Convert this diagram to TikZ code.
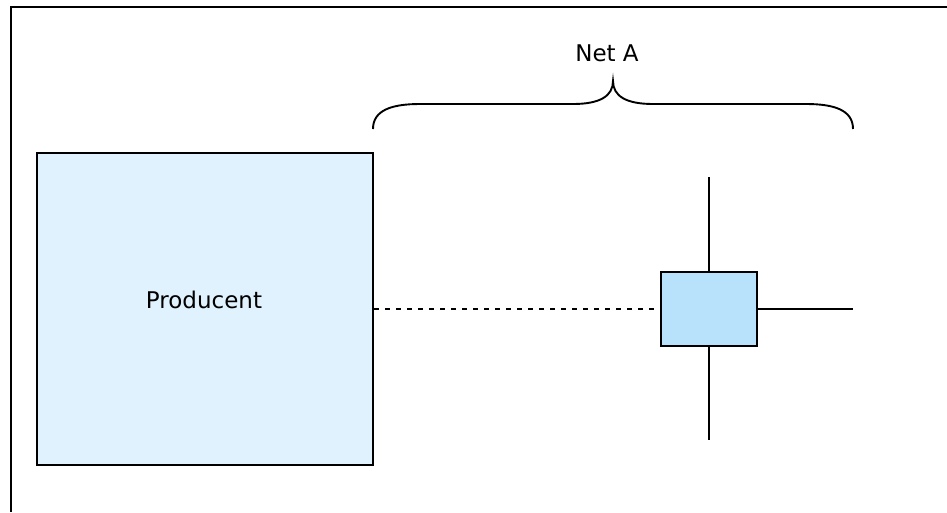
\documentclass[tikz,border=0pt]{standalone}
\usepackage{fontspec}
\setmainfont{DejaVu Sans}
\usepackage{tikz}

\definecolor{prodblue}{HTML}{E0F2FD}
\definecolor{knotblue}{HTML}{B8E2FC}

\begin{document}
\begin{tikzpicture}[x=1pt,y=-1pt,
  box/.style={draw=black,line width=2pt,inner sep=0pt},
  wire/.style={line width=2pt},
  txt/.style={font=\fontsize{23}{27}\selectfont,anchor=base,inner sep=0pt}]
\useasboundingbox (0,0) rectangle (947,512);

% frame (only top and left visible)
\draw[line width=2.2pt] (947,7) -- (11,7) -- (11,512);

\node[box,fill=prodblue,minimum width=336pt,minimum height=312pt] (prod) at (205,309) {};
\node[txt] (prodlabel) at (204,308) {Producent};

\node[box,fill=knotblue,minimum width=96pt,minimum height=74pt] (knot) at (709,309) {};
\coordinate (up) at (709,177);
\coordinate (down) at (709,440);
\coordinate (right) at (853,309);

\draw[wire,dash pattern=on 5pt off 6pt] (prod.east|-knot.west) -- (knot.west);
\draw[wire] (knot.north) -- (up);
\draw[wire] (knot.south) -- (down);
\draw[wire] (knot.east) -- (right);

% brace over the net
\draw[line width=1.9pt] (373,129) .. controls (373,110) and (392,104) .. (420,104) -- (573,104)
  .. controls (600,104) and (613,96) .. (613,81)
  .. controls (613,96) and (626,104) .. (653,104) -- (806,104)
  .. controls (834,104) and (853,110) .. (853,129);
\node[txt] (netlabel) at (607,61) {Net A};
\end{tikzpicture}
\end{document}
